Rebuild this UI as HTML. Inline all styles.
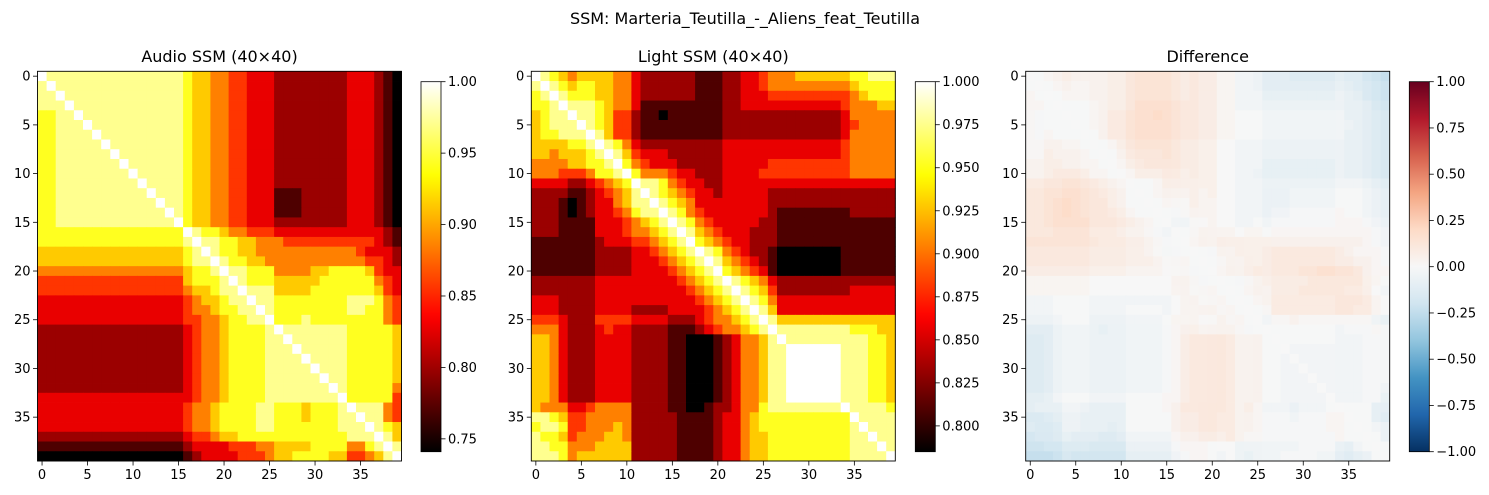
<!DOCTYPE html>
<html><head><meta charset="utf-8">
<style>
html,body{margin:0;padding:0;background:#fff;}
svg{display:block;font-family:"DejaVu Sans","Liberation Sans",sans-serif;}
</style></head>
<body>
<svg id="fig" width="1489" height="495" viewBox="0 0 1489 495" xmlns="http://www.w3.org/2000/svg">
<text x="745" y="24" text-anchor="middle" font-size="16" fill="#000">SSM: Marteria_Teutilla_-_Aliens_feat_Teutilla</text>
</svg>
<script>
// ---- data: level codes 0..9 per cell (spaces only for readability)
const audioRows = [
"9888888888888888 7665544333 22222222 333210",
"8988888888888888 7665544333 22222222 333210",
"8898888888888888 7665544333 22222222 333210",
"8889888888888888 7665544333 22222222 333210",
"7788988888888888 7665544333 22222222 333210",
"7788898888888888 7665544333 22222222 333210",
"7788889888888888 7665544333 22222222 333210",
"7788888988888888 7665544333 22222222 333210",
"7788888898888888 7665544333 22222222 333210",
"7788888889888888 7665544333 22222222 333210",
"7788888888988888 7665544333 22222222 333210",
"7788888888898888 7665544333 22222222 333210",
"7788888888889888 7665544333 11122222 333210",
"7788888888888988 7665544333 11122222 333210",
"7788888888888898 7665544333 11122222 333210",
"7788888888888889 7665544333 22222222 333210",
"7777777777777777 9877655444 33333333 333321",
"7777777777777777 8988776655 54444444 444321",
"6666666666666666 7898776655 55555555 543332",
"6666666666666666 7889877665 55555555 554432",
"5555555555555555 6778988777 55556677 776433",
"4444444444444444 6777898777 66666777 777543",
"4444444444444444 5667889888 66667777 777643",
"3333333333333333 4566788988 77777777 888754",
"3333333333333333 4556778898 77777777 887754",
"3333333333333333 4455677889 77787777 777754",
"2222222222222222 3455677778 98888888 777776",
"2222222222222222 3455677778 89888888 777776",
"2222222222222222 3455677778 88988888 777776",
"2222222222222222 3455677778 88898888 777776",
"2222222222222222 3455677778 88889888 777776",
"2222222222222222 3455677778 88888988 777776",
"2222222222222222 3455677778 88888898 777775",
"3333333333333333 3455677778 88888889 777774",
"3333333333333333 4556777788 77767778 988854",
"3333333333333333 4556777788 77767778 898854",
"3333333333333333 4556777788 77777778 889876",
"2222222222222222 3445667777 77777777 888986",
"1111111111111111 2333344455 66667777 557898",
"0000000000000000 1233334445 66777766 445689"
];
const lightRows = [
"987 6 566 665 5 3222 222 111 22 33 4 5 55666666 77888",
"898 7 677 665 5 3222 222 111 22 33 4 5 55555555 67777",
"789 8 777 665 5 3222 222 111 22 33 3 4 44444444 56777",
"778 9 888 765 5 3111 111 111 22 33 3 3 33333334 55566",
"678 8 988 764 4 2110 111 111 22 22 2 2 22222223 55555",
"678 8 898 764 4 2111 111 111 22 22 2 2 22222223 45555",
"677 8 889 864 4 2111 111 111 22 22 2 2 22222223 55555",
"666 6 778 987 5 3222 222 222 33 33 3 3 33333334 55555",
"665 6 667 898 6 4333 222 222 33 33 3 3 33333334 55555",
"555 5 667 789 7 5433 322 222 33 33 3 4 44444444 55555",
"555 4 445 778 9 7555 433 222 33 33 4 4 44444444 55555",
"333 3 223 456 7 9887 543 322 33 33 3 3 33333333 33333",
"222 2 112 345 6 8987 654 332 33 33 3 2 22222222 22222",
"222 1 012 335 6 8898 765 333 33 33 3 2 22222222 22222",
"222 1 012 334 5 7889 875 433 33 33 3 2 11111111 22222",
"222 1 111 333 4 5678 987 543 33 33 2 2 11111111 11111",
"222 1 111 333 4 5567 898 654 33 32 2 2 11111111 11111",
"111 1 111 233 3 4456 789 765 43 32 2 2 11111111 11111",
"111 1 111 222 2 3345 678 987 54 32 2 1 00000001 11111",
"111 1 111 222 2 3334 567 898 65 43 2 1 00000001 11111",
"111 1 111 222 2 3333 456 789 76 54 3 1 00000001 11111",
"222 2 222 333 3 3333 345 678 98 76 5 3 22222222 22222",
"222 2 222 333 3 3333 334 567 89 87 6 4 22222222 33333",
"333 2 222 333 3 3333 333 456 78 98 7 5 33333333 33333",
"333 2 222 333 3 2222 333 345 67 89 8 6 33333333 33333",
"444 3 222 444 4 3333 222 345 56 78 9 8 66666666 66666",
"555 3 222 343 3 2222 111 234 55 67 8 9 88888888 77766",
"665 3 222 333 3 2222 110 001 23 55 6 8 98888888 88776",
"665 3 222 333 3 2222 110 001 23 55 6 8 89999998 88776",
"665 3 222 333 3 2222 110 001 23 55 6 8 89999998 88776",
"665 3 222 333 3 2222 110 001 23 55 6 8 89999998 88776",
"665 3 222 333 3 2222 110 001 23 55 6 8 89999998 88776",
"665 3 222 333 3 2222 110 001 23 55 6 8 89999998 88776",
"665 3 222 333 3 2222 110 001 23 55 6 8 89999998 88776",
"655 5 334 555 5 2222 110 012 23 55 7 8 88888889 88887",
"887 6 445 555 5 2222 211 112 33 56 7 7 77777777 98888",
"788 7 445 556 5 2222 211 112 33 56 7 7 77777777 89888",
"877 6 455 566 5 2222 211 112 33 56 6 7 77777777 88988",
"887 7 555 666 6 2222 211 112 33 56 6 7 77777777 88898",
"888 7 566 666 6 2222 211 112 33 56 6 7 77777777 88889"
];
const audioRange = [0.741, 1.0];
const lightRange = [0.785, 1.0];
const diffRange = [-1, 1];
const audioTicks = ["0.75","0.80","0.85","0.90","0.95","1.00"];
const lightTicks = ["0.800","0.825","0.850","0.875","0.900","0.925","0.950","0.975","1.000"];
const diffTicks = ["-1.00","-0.75","-0.50","-0.25","0.00","0.25","0.50","0.75","1.00"];
const axisTicks = [0,5,10,15,20,25,30,35];

const NS = "http://www.w3.org/2000/svg";
const svg = document.getElementById("fig");
function el(tag, attrs, parent){ const e=document.createElementNS(NS,tag); for(const k in attrs) e.setAttribute(k,attrs[k]); (parent||svg).appendChild(e); return e; }
function decode(rows, rng){ return rows.map(r=>{ const s=r.replace(/ /g,""); const out=[]; for(let i=0;i<40;i++){ const c=s[i]!==undefined?+s[i]:0; out.push(rng[0]+c/9*(rng[1]-rng[0])); } return out; }); }
const audio = decode(audioRows, audioRange);
const light = decode(lightRows, lightRange);
const diff = audio.map((r,i)=>r.map((v,j)=>v-light[i][j]));

function clamp(x){return Math.max(0,Math.min(1,x));}
function hot(t){ t=clamp(t); const r=clamp(t/0.365), g=clamp((t-0.365)/0.381), b=clamp((t-0.746)/0.254); return `rgb(${Math.round(r*255)},${Math.round(g*255)},${Math.round(b*255)})`; }
const rdbu = ["#053061","#2166ac","#4393c3","#92c5de","#d1e5f0","#f7f7f7","#fddbc7","#f4a582","#d6604d","#b2182b","#67001f"];
function hex(h){return [parseInt(h.slice(1,3),16),parseInt(h.slice(3,5),16),parseInt(h.slice(5,7),16)];}
function rdbuR(t){ t=clamp(t)*10; const i=Math.min(9,Math.floor(t)), f=t-i; const a=hex(rdbu[i]), b=hex(rdbu[i+1]); return `rgb(${a.map((v,k)=>Math.round(v+(b[k]-v)*f)).join(",")})`; }

const Y0=71.3, H=389.7, CBY0=81.7, CBH=370;
const panels = [
 {name:"audio", title:"Audio SSM (40×40)", x0:37.5, data:audio, rng:audioRange, cmap:hot, cbx:421, ticks:audioTicks},
 {name:"light", title:"Light SSM (40×40)", x0:531.3, data:light, rng:lightRange, cmap:hot, cbx:915.3, ticks:lightTicks},
 {name:"diff", title:"Difference", x0:1025.7, data:diff, rng:diffRange, cmap:rdbuR, cbx:1409.3, ticks:diffTicks}
];
const W=364, CW=W/40, CH=H/40;

panels.forEach((p,pi)=>{
  const g=el("g",{});
  
  
  const xs=j=>p.x0+j*CW, ys=i=>Y0+i*CH;
  const sc=v=>(v-p.rng[0])/(p.rng[1]-p.rng[0]);
  p.data.forEach((row,i)=>row.forEach((v,j)=>{
    const r=el("rect",{x:xs(j).toFixed(2),y:ys(i).toFixed(2),width:(CW+0.4).toFixed(2),height:(CH+0.4).toFixed(2),fill:p.cmap(sc(v))},g);
    
    
  }));
  const fr=el("rect",{x:p.x0,y:Y0,width:W,height:H,fill:"none",stroke:"#000","stroke-width":0.9});
  
  
  const t=el("text",{x:p.x0+W/2,y:62,"text-anchor":"middle","font-size":16,fill:"#000"});
  t.textContent=p.title;
  
  
  axisTicks.forEach(k=>{
    const cx=xs(k)+CW/2, cy=ys(k)+CH/2;
    el("line",{x1:cx,y1:Y0+H,x2:cx,y2:Y0+H+4.5,stroke:"#000","stroke-width":0.8});
    const tx=el("text",{x:cx,y:Y0+H+18,"text-anchor":"middle","font-size":13,fill:"#000"});
    tx.textContent=k;
    
    
    el("line",{x1:p.x0-4.5,y1:cy,x2:p.x0,y2:cy,stroke:"#000","stroke-width":0.8});
    const ty=el("text",{x:p.x0-7,y:cy+4.5,"text-anchor":"end","font-size":13,fill:"#000"});
    ty.textContent=k;
    
    
  });
  const defs=el("defs",{});
  const lg=el("linearGradient",{id:"cg"+pi,x1:0,y1:1,x2:0,y2:0},defs);
  for(let s=0;s<=40;s++){ el("stop",{offset:s/40,"stop-color":p.cmap(s/40)},lg); }
  const cb=el("rect",{x:p.cbx,y:CBY0,width:20,height:CBH,fill:`url(#cg${pi})`,stroke:"#000","stroke-width":0.8});
  
  
  p.ticks.forEach(lbl=>{
    const v=parseFloat(lbl);
    const y=CBY0+CBH-sc(v)*CBH;
    el("line",{x1:p.cbx+20,y1:y,x2:p.cbx+24.5,y2:y,stroke:"#000","stroke-width":0.8});
    const tt=el("text",{x:p.cbx+27,y:y+4.5,"font-size":13,fill:"#000"});
    tt.textContent=lbl.replace("-","\u2212");
    
    
  });
});
</script>
</body></html>
